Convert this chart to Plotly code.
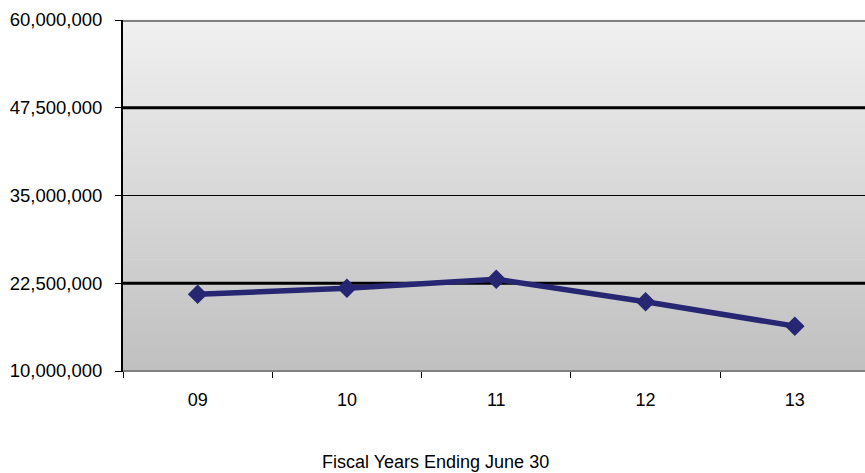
import plotly.graph_objects as go

# Fiscal-year series
years = ["09", "10", "11", "12", "13"]
values = [20930000, 21780000, 23070000, 19870000, 16390000]

y_ticks = [10000000, 22500000, 35000000, 47500000, 60000000]
y_labels = ["10,000,000", "22,500,000", "35,000,000", "47,500,000", "60,000,000"]
x_title = "Fiscal Years Ending June 30"

FONT = "Liberation Sans, Arial, sans-serif"
LINE_COLOR = "#262673"

fig = go.Figure()

fig.add_trace(go.Scatter(
    x=years, y=values, mode="lines+markers",
    line=dict(color=LINE_COLOR, width=5.5),
    marker=dict(symbol="diamond", size=15, color=LINE_COLOR),
    showlegend=False, cliponaxis=False,
))

shapes = []
# vertical grey gradient filling the plot area
n_bands = 120
top_rgb = (240, 240, 240)
bot_rgb = (192, 192, 192)
for i in range(n_bands):
    t = i / (n_bands - 1)
    c = tuple(round(bot_rgb[k] + (top_rgb[k] - bot_rgb[k]) * t) for k in range(3))
    shapes.append(dict(
        type="rect", xref="x domain", yref="y domain",
        x0=0, x1=1, y0=i / n_bands, y1=(i + 1) / n_bands + 0.002,
        fillcolor="rgb(%d,%d,%d)" % c, line=dict(width=0), layer="below",
    ))

# horizontal reference lines at the major ticks
grid_style = {
    22500000: ("#000000", 3),
    35000000: ("#000000", 1),
    47500000: ("#000000", 3),
    60000000: ("#808080", 4),
}
for v, (col, w) in grid_style.items():
    shapes.append(dict(
        type="line", xref="x domain", yref="y",
        x0=0, x1=1, y0=v, y1=v,
        line=dict(color=col, width=w), layer="below",
    ))
# bottom edge of the plot area
shapes.append(dict(
    type="line", xref="x domain", yref="y domain",
    x0=0, x1=1, y0=0, y1=0, line=dict(color="#808080", width=2), layer="above",
))

fig.update_layout(
    width=865, height=473,
    margin=dict(l=123, r=0, t=20, b=102),
    paper_bgcolor="white", plot_bgcolor="white",
    shapes=shapes,
    font=dict(family=FONT, color="#000000"),
    xaxis=dict(
        type="category", range=[-0.5, 4.47],
        showgrid=False, zeroline=False,
        showline=True, linecolor="#000000", linewidth=1,
        ticks="outside", tickson="boundaries", ticklen=6, tickwidth=1, tickcolor="#000000",
        tickfont=dict(size=18), ticklabelstandoff=12,
    ),
    yaxis=dict(
        range=[10000000, 60000000],
        tickvals=y_ticks, ticktext=y_labels,
        showgrid=False, zeroline=False,
        showline=True, linecolor="#000000", linewidth=2,
        ticks="outside", ticklen=6, tickwidth=1, tickcolor="#000000",
        tickfont=dict(size=18.5), ticklabelstandoff=9,
    ),
    annotations=[dict(
        text=x_title, xref="paper", yref="paper", x=0.4218, y=0,
        xanchor="center", yanchor="middle", yshift=-91, showarrow=False,
        font=dict(size=18),
    )],
)

fig.write_html("out.html")
